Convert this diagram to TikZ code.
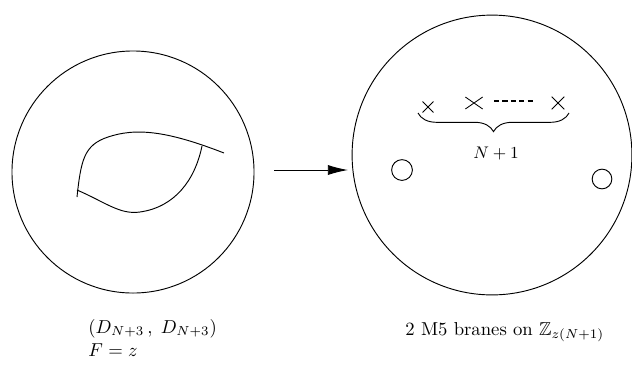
\documentclass[tikz,border=0pt]{standalone}
\usepackage{amsmath}
\usepackage{amssymb}
\usetikzlibrary{positioning,arrows.meta,shapes.misc,decorations.pathreplacing}

\begin{document}
\begin{tikzpicture}[
  x=0.0188cm, y=-0.0188cm,
  line width=0.5pt,
  disc/.style={draw, circle, inner sep=0pt},
  hole/.style={draw, circle, inner sep=0pt, minimum size=0.39cm},
  mark5/.style={draw, cross out, inner sep=0pt, line width=0.45pt},
  lbl/.style={inner sep=0pt},
  arr/.style={-{Latex[length=3.8mm, width=1.9mm]}, line width=0.5pt}
]
\useasboundingbox (0,0) rectangle (632,365);

% the two discs
\node[disc, minimum size=4.55cm] (lhs) at (133,172) {};
\node[disc, minimum size=5.26cm] (rhs) at (492,155) {};

% curves inside the left disc
\draw (77,197) .. controls (81,160) and (84,145) .. (108,137)
      .. controls (135,128) and (165,130) .. (224,153);
\draw (77,190) .. controls (105,202) and (120,215) .. (140,212)
      .. controls (175,207) and (195,180) .. (202,146);

% map
\coordinate (a0) at (274,170);
\coordinate (a1) at (348,170);
\draw[arr] (a0) -- (a1);

% M5 branes
\node[mark5, minimum width=0.19cm, minimum height=0.19cm] (x1) at (428,107) {};
\node[mark5, minimum width=0.31cm, minimum height=0.21cm] (x2) at (474,103) {};
\node[mark5, minimum width=0.22cm, minimum height=0.22cm] (x3) at (558,103) {};
\draw[line width=1.2pt, dash pattern=on 2.8pt off 1.7pt] (494,101) -- (533,101);
\draw[decorate, decoration={brace, mirror, amplitude=0.35cm}] (418,113) -- (569,113);
\node[lbl, font=\small] (cnt) at (496,154) {$N+1$};

\node[hole] (h1) at (402,170) {};
\node[hole, minimum size=0.37cm] (h2) at (602,179) {};

% labels
\node[lbl, anchor=base west] (pair) at (88,333) {$(D_{N+3}\,,\; D_{N+3})$};
\node[lbl, anchor=base west] (flux) at (88,356) {$F=z$};
\node[lbl, anchor=base west] (brn) at (405,335) {2 M5 branes on $\mathbb{Z}_{z(N+1)}$};
\end{tikzpicture}
\end{document}
